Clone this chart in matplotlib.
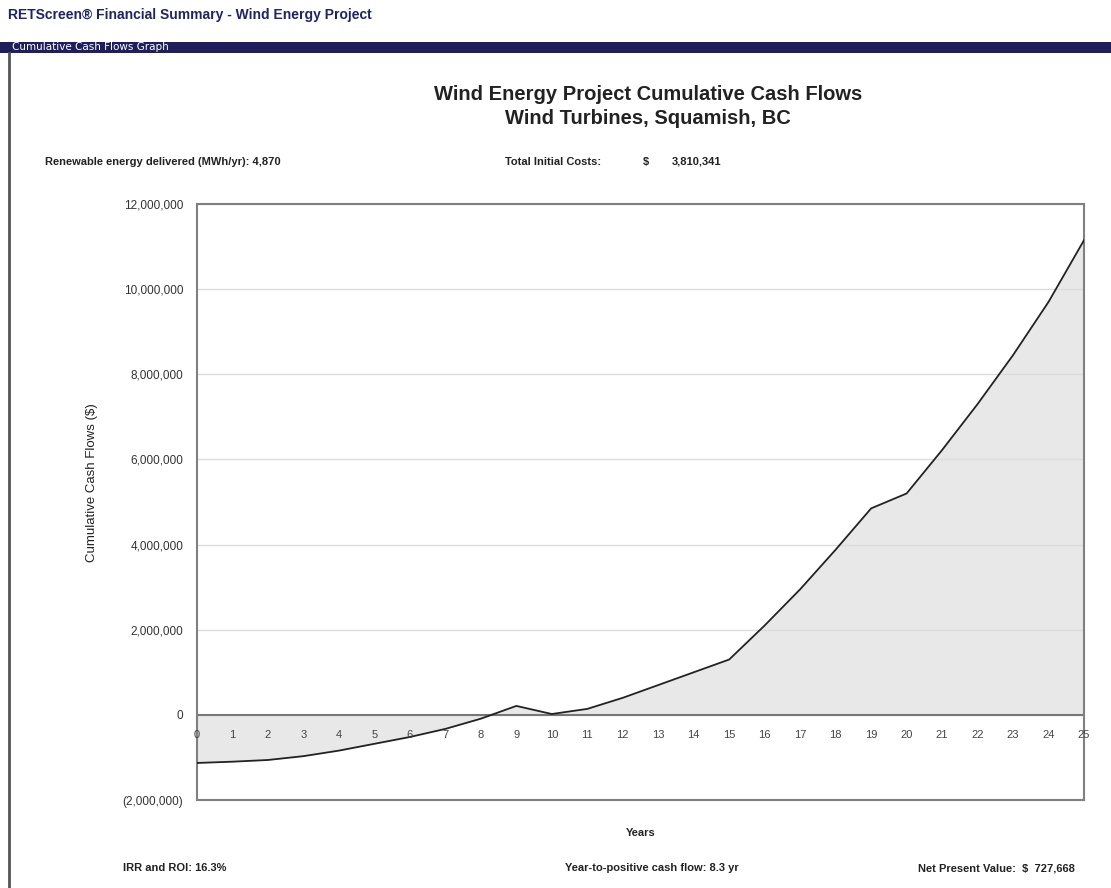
import matplotlib
matplotlib.use("Agg")
import matplotlib.pyplot as plt
from matplotlib.ticker import FuncFormatter
from matplotlib.patches import Rectangle
from matplotlib.lines import Line2D

plt.rcParams['font.family'] = ['Liberation Sans', 'DejaVu Sans']

# Project cumulative cash flows by year
years = list(range(0, 26))
cumulative_cash = [
    -1130000, -1100000, -1060000, -970000, -840000, -680000,
    -520000, -330000, -90000, 210000, 20000, 140000,
    400000, 700000, 1000000, 1300000, 2100000, 2950000,
    3880000, 4850000, 5200000, 6220000, 7300000, 8450000,
    9700000, 11150000,
]
year_ticks = list(range(0, 26))
y_ticks = [-2000000, 0, 2000000, 4000000, 6000000, 8000000, 10000000, 12000000]

header = "RETScreen\u00ae Financial Summary - Wind Energy Project"
band_label = "Cumulative Cash Flows Graph"
title_lines = ["Wind Energy Project Cumulative Cash Flows", "Wind Turbines, Squamish, BC"]
energy_text = "Renewable energy delivered (MWh/yr): 4,870"
cost_label = "Total Initial Costs:"
cost_value = "3,810,341"
irr_text = "IRR and ROI: 16.3%"
payback_text = "Year-to-positive cash flow: 8.3 yr"
npv_text = "Net Present Value:  $  727,668"

W, H = 1111, 888
fig = plt.figure(figsize=(W / 100, H / 100), dpi=100)
fig.patch.set_facecolor('white')

def fx(px):
    return px / W

def fy(py):
    return 1 - py / H

# Page header and section band
fig.text(fx(8), fy(15), header, fontsize=10, fontweight='bold', color='#1e2466',
         va='center', ha='left')
fig.patches.append(Rectangle((0, fy(53)), 1, fy(42) - fy(53), transform=fig.transFigure,
                             facecolor='#1f1f5e', edgecolor='none'))
fig.text(fx(12), fy(47.5), band_label, fontsize=7.5, color='white', va='center', ha='left',
         family='DejaVu Sans')
fig.lines.append(Line2D([fx(9), fx(9)], [fy(53), 0], transform=fig.transFigure,
                        color='#555555', lw=2))

# Titles
fig.text(fx(648), fy(95), title_lines[0], fontsize=14.5, fontweight='bold',
         color='#222222', ha='center', va='center')
fig.text(fx(648), fy(119), title_lines[1], fontsize=14.5, fontweight='bold',
         color='#222222', ha='center', va='center')

# Summary lines
small = dict(fontsize=8, fontweight='bold', color='#222222', va='center')
fig.text(fx(45), fy(162), energy_text, ha='left', **small)
fig.text(fx(505), fy(162), cost_label, ha='left', **small)
fig.text(fx(643), fy(162), "$", ha='left', **small)
fig.text(fx(672), fy(162), cost_value, ha='left', **small)
fig.text(fx(123), fy(868), irr_text, ha='left', **small)
fig.text(fx(652), fy(868), payback_text, ha='center', **small)
fig.text(fx(1075), fy(868), npv_text, ha='right', **small)

# Chart area
ax = fig.add_axes([fx(197), fy(800), fx(1084) - fx(197), fy(204) - fy(800)])
ax.set_xlim(0, 25)
ax.set_ylim(-2000000, 12000000)

ax.fill_between(years, cumulative_cash, 0, color='#e8e8e8', lw=0, zorder=1)
ax.set_yticks(y_ticks)
ax.grid(axis='y', color='#dcdcdc', lw=1, zorder=0)
ax.axhline(0, color='#777777', lw=1.5, zorder=2)
ax.plot(years, cumulative_cash, color='#222222', lw=1.3, zorder=3)

for s in ax.spines.values():
    s.set_color('#808080')
    s.set_linewidth(1.5)

def money(v, pos=None):
    if v < 0:
        return "({:,.0f})".format(-v)
    return "{:,.0f}".format(v)

ax.yaxis.set_major_formatter(FuncFormatter(money))
ax.tick_params(axis='y', length=0, pad=10, labelsize=8.5, labelcolor='#333333')
ax.set_xticks([])

# Year labels sit just under the zero line
for yr in year_ticks:
    ax.annotate(str(yr), xy=(yr, 0), xytext=(0, -14.5), textcoords='offset points',
                ha='center', va='center', fontsize=8, color='#444444',
                annotation_clip=False, zorder=4)

ax.set_xlabel("Years", fontsize=8, fontweight='bold', color='#222222', labelpad=20)
ax.set_ylabel("Cumulative Cash Flows ($)", fontsize=9.5, color='#222222')
ax.yaxis.set_label_coords(-0.112, 0.532)

fig.savefig("out.png", dpi=100)
